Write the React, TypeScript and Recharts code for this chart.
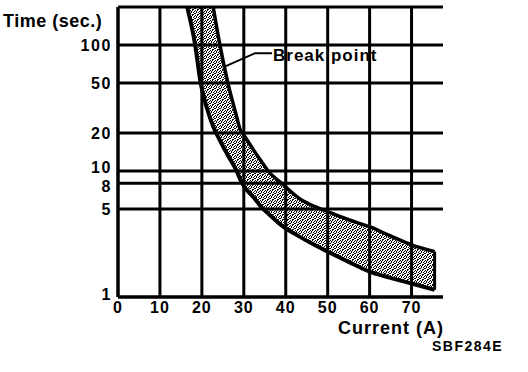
import { ComposedChart, Area, Line, XAxis, YAxis, CartesianGrid, ReferenceLine } from "recharts";

// current (A) at which both edges of the band were read
const current = [16.5, 18.4, 19.7, 21.2, 22.7, 24.3, 26.2, 28.3, 29.1, 30, 32.3, 34.6, 35.8, 39, 43.4, 47.7, 50, 55, 60, 65, 70, 75.5];
// lower (fast) edge of the band, seconds
const lowerTime = [200, 100, 50, 31.6, 22.5, 17.5, 13.3, 10, 8.6, 7.6, 6.2, 5, 4.6, 3.7, 3.0, 2.5, 2.29, 1.9, 1.59, 1.42, 1.28, 1.14];
// upper (slow) edge, null where it is above the chart
const upperTime = [null, null, null, null, 200, 100, 50, 27, 21.5, 19.3, 14.7, 11.4, 10, 8, 6.0, 5.1, 4.75, 4.1, 3.61, 3.05, 2.59, 2.29];

const xTicks = [0, 10, 20, 30, 40, 50, 60, 70];
const yTicks = [1, 5, 8, 10, 20, 50, 100];
const TIME_MAX = 200;
const CURRENT_MAX = 77.5;

// leader from the "Break point" label to the band
const breakLeader = [
  { current: 25.3, time: 67 },
  { current: 32.7, time: 86 },
  { current: 36.7, time: 86 },
];

const bandData = current.map((c, i) => ({
  current: c,
  lower: lowerTime[i],
  upper: upperTime[i],
  band: [lowerTime[i], upperTime[i] ?? TIME_MAX],
}));

const last = bandData.length - 1;
const font = "'Liberation Sans', Arial, sans-serif";

// 10 and 8 sit very close, nudge them apart like the original
const tickNudge: Record<number, number> = { 10: -4, 8: 3, 1: -3 };

const TimeTick = ({ x, y, payload }: any) => (
  <text
    x={x}
    y={y + (tickNudge[payload.value] ?? 0)}
    dy="0.355em"
    textAnchor="end"
    fill="#000"
    fontSize={16}
    fontWeight="bold"
    fontFamily={font}
    letterSpacing={1.6}
  >
    {payload.value}
  </text>
);

export default function App() {
  return (
    <div style={{ position: "absolute", left: 0, top: 0, width: 528, height: 372, background: "#fff" }}>
      <ComposedChart
        width={528}
        height={372}
        data={bandData}
        margin={{ top: 7, right: 85, bottom: 45, left: 68 }}
      >
        <defs>
          <pattern id="stipple" width="5" height="5" patternUnits="userSpaceOnUse">
            <rect x="0" y="0" width="1" height="1" fill="#000" />
            <rect x="2" y="0" width="1" height="1" fill="#000" />
            <rect x="4" y="1" width="1" height="1" fill="#000" />
            <rect x="1" y="2" width="1" height="1" fill="#000" />
            <rect x="3" y="2" width="1" height="1" fill="#000" />
            <rect x="0" y="3" width="1" height="1" fill="#000" />
            <rect x="2" y="4" width="1" height="1" fill="#000" />
            <rect x="4" y="3" width="1" height="1" fill="#000" />
            <rect x="3" y="4" width="1" height="1" fill="#000" />
            <rect x="1" y="1" width="1" height="1" fill="#000" />
          </pattern>
        </defs>
        <CartesianGrid
          stroke="#000"
          strokeWidth={3}
          verticalValues={xTicks}
          horizontalValues={yTicks}
        />
        <XAxis
          dataKey="current"
          type="number"
          domain={[0, CURRENT_MAX]}
          ticks={xTicks}
          interval={0}
          allowDataOverflow
          height={30}
          tickLine={false}
          tickSize={4}
          tickMargin={1}
          axisLine={{ stroke: "#000", strokeWidth: 3 }}
          tick={{ fill: "#000", fontSize: 16, fontWeight: "bold", fontFamily: font, letterSpacing: 1 }}
        />
        <YAxis
          type="number"
          scale="log"
          domain={[1, TIME_MAX]}
          ticks={yTicks}
          interval={0}
          allowDataOverflow
          width={50}
          tickLine={false}
          tickSize={4}
          tickMargin={2}
          axisLine={{ stroke: "#000", strokeWidth: 3 }}
          tick={<TimeTick />}
        />
        <ReferenceLine y={TIME_MAX} stroke="#000" strokeWidth={3} />
        <Area
          dataKey="band"
          type="monotone"
          stroke="none"
          fill="url(#stipple)"
          fillOpacity={1}
          isAnimationActive={false}
        />
        <Line dataKey="lower" type="monotone" stroke="#000" strokeWidth={4} dot={false} isAnimationActive={false} />
        <Line dataKey="upper" type="monotone" stroke="#000" strokeWidth={3.5} dot={false} isAnimationActive={false} />
        <ReferenceLine
          segment={[
            { x: bandData[last].current, y: bandData[last].lower },
            { x: bandData[last].current, y: bandData[last].upper },
          ]}
          stroke="#000"
          strokeWidth={3}
        />
        <Line
          data={breakLeader}
          dataKey="time"
          type="linear"
          stroke="#000"
          strokeWidth={2}
          dot={false}
          isAnimationActive={false}
        />
      </ComposedChart>
      <svg
        width={528}
        height={372}
        style={{ position: "absolute", left: 0, top: 0, pointerEvents: "none" }}
      >
        <g fill="#000" fontFamily={font} fontWeight="bold">
          <text x={3} y={27} fontSize={18} letterSpacing={0.5}>Time (sec.)</text>
          <text x={273} y={61} fontSize={17} letterSpacing={1}>Break point</text>
          <text x={338} y={334} fontSize={18} letterSpacing={1}>Current (A)</text>
          <text x={432} y={351} fontSize={14} letterSpacing={1.5}>SBF284E</text>
        </g>
      </svg>
    </div>
  );
}
